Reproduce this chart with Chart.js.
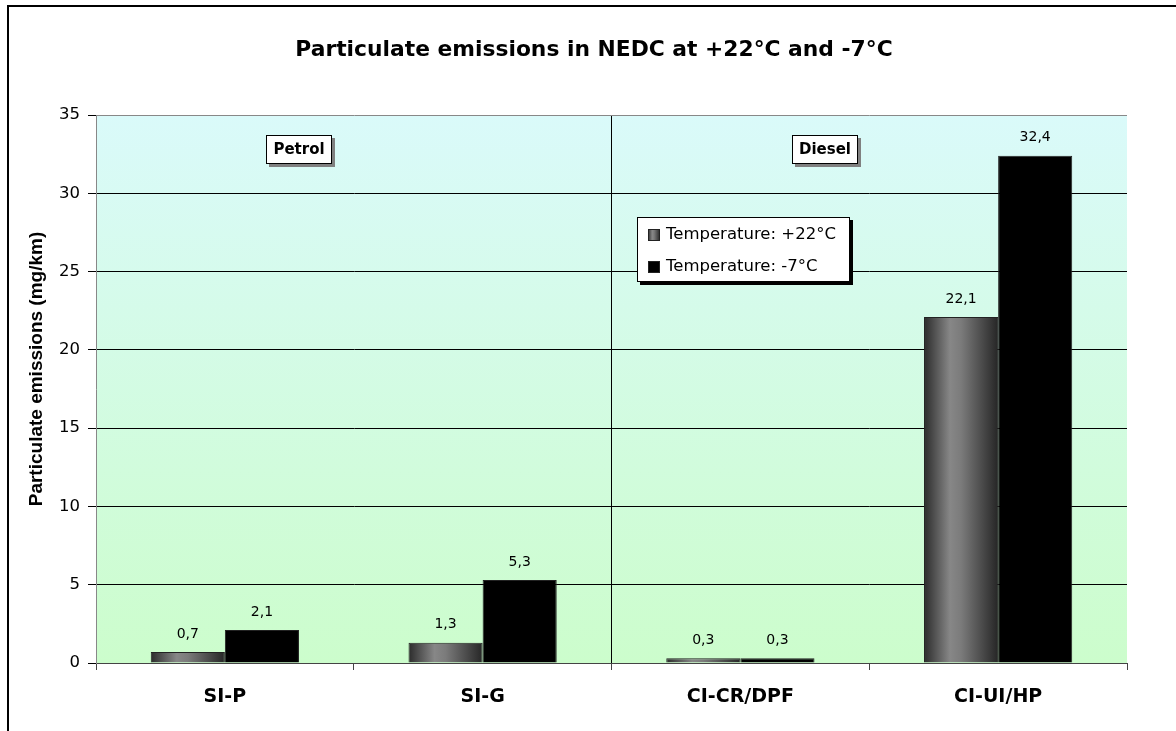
<!DOCTYPE html>
<html>
<head>
<meta charset="utf-8">
<script src="https://cdn.jsdelivr.net/npm/chart.js@4"></script>
<style>
  html, body { margin: 0; padding: 0; background: #fff; }
  #wrap { width: 1176px; height: 731px; }
</style>
</head>
<body>
<div id="wrap"><canvas id="myChart" width="1176" height="731"></canvas></div>
<script>
const categories = ['SI-P', 'SI-G', 'CI-CR/DPF', 'CI-UI/HP'];
const warmValues = [0.7, 1.3, 0.3, 22.1];   // +22°C
const coldValues = [2.1, 5.3, 0.3, 32.4];   // -7°C
const seriesLabels = ['Temperature: +22°C', 'Temperature: -7°C'];
const groupLabels = ['Petrol', 'Diesel'];
const chartTitle = 'Particulate emissions in NEDC at +22°C and -7°C';
const yAxisTitle = 'Particulate emissions (mg/km)';

const FONT = "'DejaVu Sans', 'Liberation Sans', Arial, sans-serif";

// cylinder-like grey fill, spanning the given x range
function greyGradient(ctx, x0, x1) {
    const g = ctx.createLinearGradient(x0, 0, x1, 0);
    g.addColorStop(0, '#2b2b2b');
    g.addColorStop(0.35, '#878787');
    g.addColorStop(0.5, '#7b7b7b');
    g.addColorStop(1, '#262626');
    return g;
}

function warmFill(c) {
    const chart = c.chart;
    const x = chart.scales.x;
    if (!chart.chartArea || !x) return '#777';
    const center = x.getPixelForValue(c.dataIndex);
    const w = x.width / categories.length * 0.575 / 2;
    return greyGradient(chart.ctx, center - w, center);
}

const fmt = v => v.toFixed(1).replace('.', ',');

const decorations = {
    id: 'decorations',
    beforeDraw(chart) {
        const { ctx, chartArea: a } = chart;
        ctx.save();
        const bg = ctx.createLinearGradient(0, a.top, 0, a.bottom);
        bg.addColorStop(0, '#dafafa');
        bg.addColorStop(1, '#ccfdcc');
        ctx.fillStyle = bg;
        ctx.fillRect(a.left, a.top, a.right - a.left, a.bottom - a.top);
        // outer frame (left and top only, the rest is cut off)
        ctx.fillStyle = '#000';
        ctx.fillRect(7, 5, 2, chart.height - 5);
        ctx.fillRect(7, 5, chart.width - 7, 2);
        ctx.restore();
    },
    afterDatasetsDraw(chart) {
        const { ctx } = chart;
        ctx.save();
        ctx.fillStyle = '#000';
        ctx.font = '14px ' + FONT;
        ctx.textAlign = 'center';
        ctx.textBaseline = 'middle';
        chart.data.datasets.forEach((ds, i) => {
            chart.getDatasetMeta(i).data.forEach((bar, j) => {
                ctx.fillText(fmt(ds.data[j]), bar.x, bar.y - 18);
            });
        });
        ctx.restore();
    },
    afterDraw(chart) {
        const { ctx, chartArea: a } = chart;
        ctx.save();
        // title
        ctx.fillStyle = '#000';
        ctx.font = 'bold 21.8px ' + FONT;
        ctx.textAlign = 'center';
        ctx.textBaseline = 'middle';
        ctx.fillText(chartTitle, 594, 50);

        // y axis title, sits a bit above the middle of the plot
        ctx.save();
        ctx.translate(37, 369);
        ctx.rotate(-Math.PI / 2);
        ctx.font = "bold 19px 'Liberation Sans', Arial, sans-serif";
        ctx.fillText(yAxisTitle, 0, 0);
        ctx.restore();

        // group boxes
        const boxes = [[266, 135], [792, 135]];
        ctx.font = 'bold 15px ' + FONT;
        groupLabels.forEach((txt, i) => {
            const [bx, by] = boxes[i];
            ctx.fillStyle = '#808080';
            ctx.fillRect(bx + 3, by + 3, 66, 29);
            ctx.fillStyle = '#fff';
            ctx.fillRect(bx, by, 66, 29);
            ctx.strokeStyle = '#000';
            ctx.lineWidth = 1;
            ctx.strokeRect(bx + 0.5, by + 0.5, 65, 28);
            ctx.fillStyle = '#000';
            ctx.fillText(txt, bx + 33, by + 15);
        });

        // legend box
        const lx = 637, ly = 217, lw = 213, lh = 65;
        ctx.fillStyle = '#000';
        ctx.fillRect(lx + 3, ly + 3, lw, lh);
        ctx.fillStyle = '#fff';
        ctx.fillRect(lx, ly, lw, lh);
        ctx.strokeRect(lx + 0.5, ly + 0.5, lw - 1, lh - 1);
        ctx.font = '16.5px ' + FONT;
        ctx.textAlign = 'left';
        seriesLabels.forEach((txt, i) => {
            const cy = ly + 18 + i * 32;
            ctx.fillStyle = i === 0 ? greyGradient(ctx, lx + 11, lx + 23) : '#000';
            ctx.fillRect(lx + 11, cy - 6, 12, 12);
            ctx.strokeStyle = '#222';
            ctx.strokeRect(lx + 11.5, cy - 5.5, 11, 11);
            ctx.fillStyle = '#000';
            ctx.fillText(txt, lx + 29, cy);
        });
        ctx.restore();
    }
};

const data = {
    labels: categories,
    datasets: [{
        label: seriesLabels[0],
        data: warmValues,
        backgroundColor: warmFill,
        borderColor: '#222',
        borderWidth: 1
    }, {
        label: seriesLabels[1],
        data: coldValues,
        backgroundColor: '#000',
        borderColor: '#222',
        borderWidth: 1
    }]
};

const config = {
    type: 'bar',
    data: data,
    options: {
        responsive: false,
        animation: false,
        devicePixelRatio: 1,
        layout: { padding: { top: 115, right: 49, bottom: 0, left: 0 } },
        datasets: {
            bar: { categoryPercentage: 0.575, barPercentage: 1 }
        },
        plugins: {
            legend: { display: false },
            title: { display: false },
            tooltip: { enabled: false }
        },
        scales: {
            x: {
                afterFit: s => { s.height = 68; },
                border: { color: '#444', width: 1 },
                grid: {
                    offset: true,
                    drawOnChartArea: true,
                    color: c => c.index === 2 ? '#000' : (c.index === 4 ? '#888' : 'rgba(0,0,0,0)'),
                    tickColor: '#444',
                    tickLength: 7
                },
                ticks: {
                    color: '#000',
                    padding: 16,
                    font: { family: FONT, weight: 'bold', size: 19 }
                }
            },
            y: {
                min: 0,
                max: 35,
                afterFit: s => { s.width = 96; },
                border: { color: '#888', width: 1 },
                grid: {
                    color: c => (c.tick && c.tick.value === 35) ? '#888' : '#000',
                    tickColor: '#000',
                    tickLength: 8
                },
                ticks: {
                    stepSize: 5,
                    color: '#000',
                    padding: 8,
                    font: { family: FONT, size: 16.5 }
                }
            }
        }
    },
    plugins: [decorations]
};

const ctx = document.getElementById('myChart').getContext('2d');
window.myChartInstance = new Chart(ctx, config);
</script>
</body>
</html>
